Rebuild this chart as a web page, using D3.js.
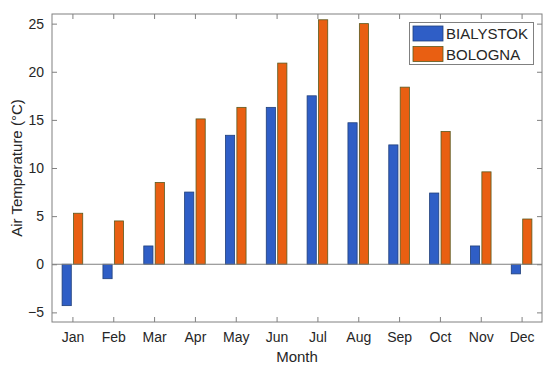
<!DOCTYPE html>
<html>
<head>
<meta charset="utf-8">
<script src="https://cdn.jsdelivr.net/npm/d3@7"></script>
<style>
  body { margin: 0; background: #fff; }
  text { font-family: "Liberation Sans", Arial, sans-serif; fill: #262626; }
</style>
</head>
<body>
<div id="chart"></div>
<script>
// monthly mean air temperature
var months = ["Jan", "Feb", "Mar", "Apr", "May", "Jun", "Jul", "Aug", "Sep", "Oct", "Nov", "Dec"];
var bialystok = [-4.3, -1.5, 1.9, 7.5, 13.4, 16.3, 17.5, 14.7, 12.4, 7.4, 1.9, -1.0];
var bologna = [5.3, 4.5, 8.5, 15.1, 16.3, 20.9, 25.4, 25.0, 18.4, 13.8, 9.6, 4.7];
var yTicks = [-5, 0, 5, 10, 15, 20, 25];
var seriesNames = ["BIALYSTOK", "BOLOGNA"];

var W = 550, H = 369,
    margin = {t: 14, r: 8, b: 47, l: 52},
    w = W - margin.l - margin.r,
    h = H - margin.t - margin.b;

var colors = ["#2f5ec6", "#e95f12"],
    edge = ["#1f3f7a", "#5a5a1e"],
    axisColor = "#808080";

var x = d3.scaleLinear().domain([0.5, 12.5]).range([0, w]);
var y = d3.scaleLinear().domain([-6, 26]).range([h, 0]);

var svg = d3.select("#chart").append("svg")
  .attr("width", W).attr("height", H);

var g = svg.append("g").attr("transform", "translate(" + margin.l + "," + margin.t + ")");

// bars
var barW = 0.225, off = [-0.14, 0.14];
[bialystok, bologna].forEach(function(vals, s) {
  g.selectAll(".bar" + s)
    .data(vals)
    .enter().append("rect")
    .attr("class", "bar" + s)
    .attr("x", function(d, i) { return x(i + 1 + off[s] - barW / 2); })
    .attr("width", x(barW) - x(0))
    .attr("y", function(d) { return y(Math.max(0, d)); })
    .attr("height", function(d) { return Math.abs(y(d) - y(0)); })
    .style("fill", colors[s])
    .style("stroke", edge[s])
    .style("stroke-width", 0.8);
});

// baseline at zero
g.append("line")
  .attr("x1", 0).attr("x2", w)
  .attr("y1", y(0)).attr("y2", y(0))
  .style("stroke", axisColor).style("stroke-width", 1);

// box
g.append("rect")
  .attr("width", w).attr("height", h)
  .style("fill", "none").style("stroke", axisColor).style("stroke-width", 1);

// axes, ticks pointing in
var xAxis = d3.axisBottom(x).tickValues(d3.range(1, 13))
  .tickFormat(function(d) { return months[d - 1]; })
  .tickSizeInner(-5).tickSizeOuter(0).tickPadding(10);
var gx = g.append("g").attr("transform", "translate(0," + h + ")").call(xAxis);

var xTop = d3.axisTop(x).tickValues(d3.range(1, 13)).tickFormat("")
  .tickSizeInner(-5).tickSizeOuter(0);
var gxt = g.append("g").call(xTop);

var yAxis = d3.axisLeft(y).tickValues(yTicks)
  .tickFormat(function(d) { return d < 0 ? "\u2212" + (-d) : d; })
  .tickSizeInner(-5).tickSizeOuter(0).tickPadding(8);
var gy = g.append("g").call(yAxis);

var yRight = d3.axisRight(y).tickValues(yTicks).tickFormat("")
  .tickSizeInner(-5).tickSizeOuter(0);
var gyr = g.append("g").attr("transform", "translate(" + w + ",0)").call(yRight);

[gx, gxt, gy, gyr].forEach(function(a) {
  a.select(".domain").remove();
  a.selectAll("line").style("stroke", axisColor);
  a.selectAll("text").style("font-size", "14px").style("fill", "#262626")
    .style("font-family", "'Liberation Sans', Arial, sans-serif");
});

// axis labels
svg.append("text")
  .attr("x", margin.l + w / 2)
  .attr("y", 362)
  .attr("text-anchor", "middle")
  .style("font-size", "15px")
  .text("Month");

svg.append("text")
  .attr("transform", "translate(22," + (margin.t + h / 2) + ") rotate(-90)")
  .attr("text-anchor", "middle")
  .style("font-size", "15px")
  .text("Air Temperature (\u00B0C)");

// legend
var lg = svg.append("g").attr("transform", "translate(409.5,22.5)");
lg.append("rect")
  .attr("width", 124).attr("height", 42)
  .style("fill", "#fff").style("stroke", axisColor).style("stroke-width", 1);
seriesNames.forEach(function(n, i) {
  lg.append("rect")
    .attr("x", 3.5).attr("y", 3.5 + i * 20.5)
    .attr("width", 30).attr("height", 15)
    .style("fill", colors[i]).style("stroke", edge[i]).style("stroke-width", 0.8);
  lg.append("text")
    .attr("x", 36.5).attr("y", 16.5 + i * 20.5)
    .style("font-size", "15px")
    .text(n);
});
</script>
</body>
</html>
